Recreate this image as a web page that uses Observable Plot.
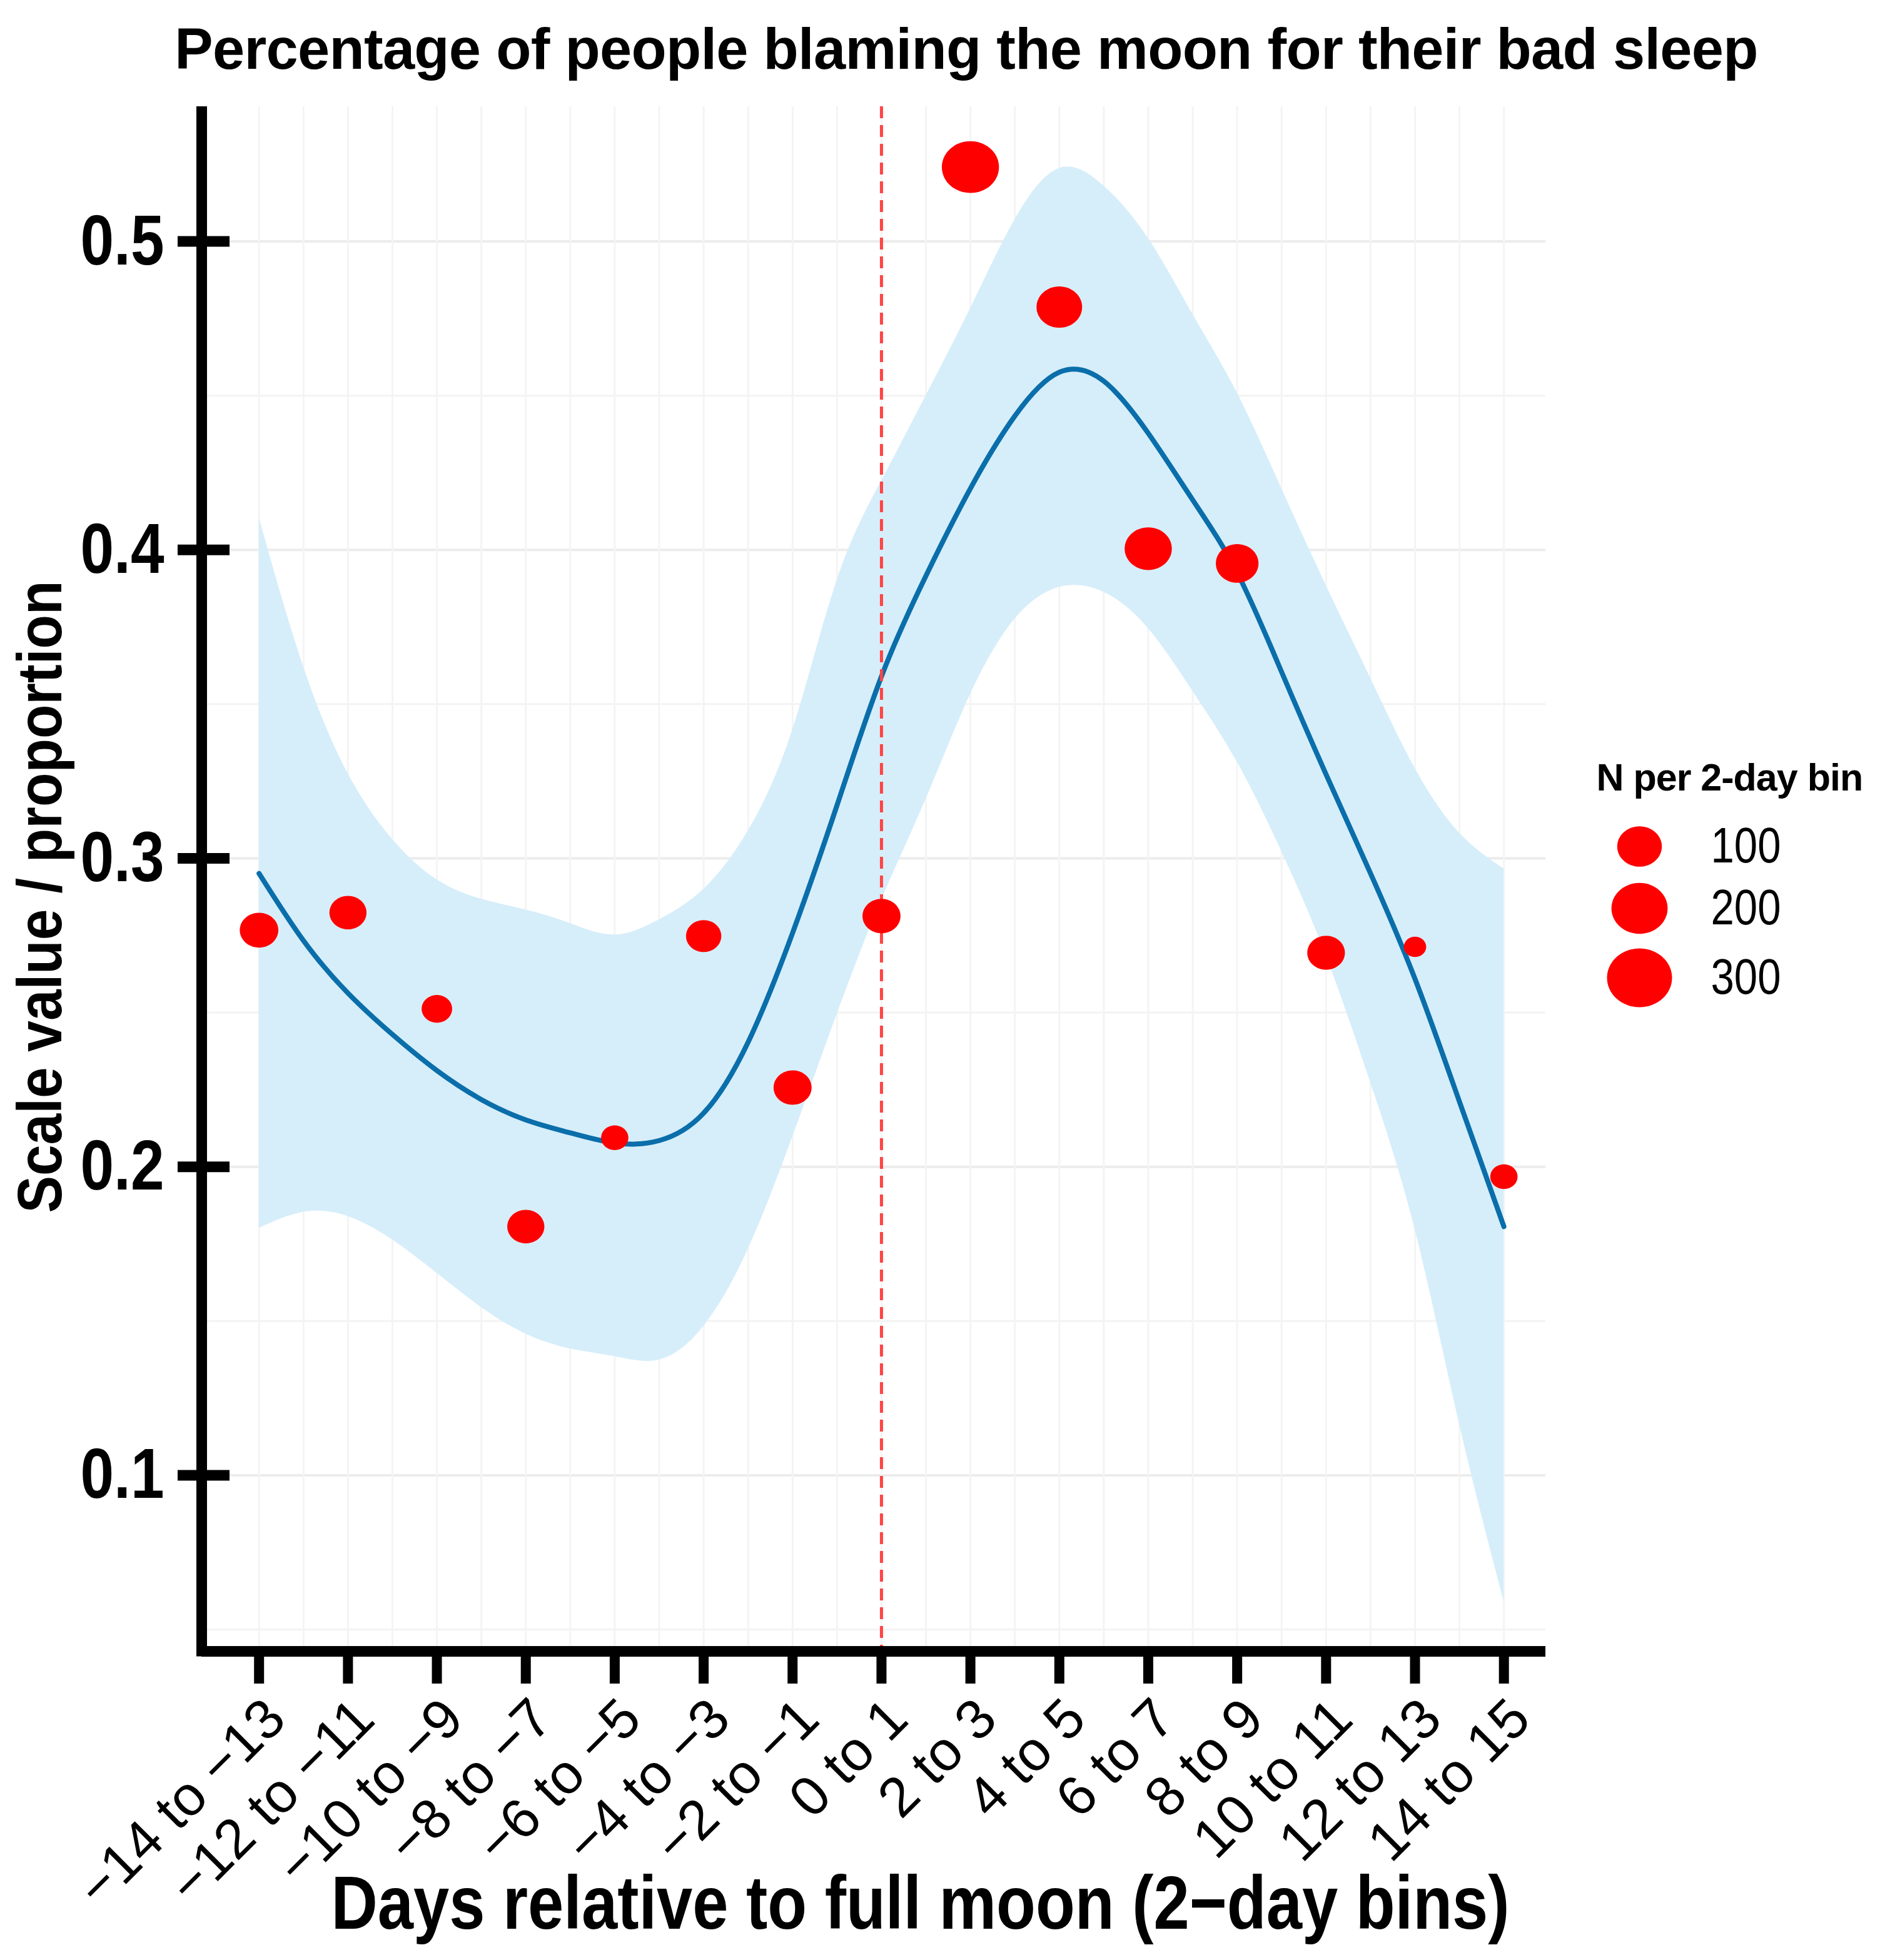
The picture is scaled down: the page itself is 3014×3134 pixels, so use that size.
<!DOCTYPE html>
<html>
<head>
<meta charset="utf-8">
<script src="https://cdn.jsdelivr.net/npm/d3@7"></script>
<script src="https://cdn.jsdelivr.net/npm/@observablehq/plot@0.6"></script>
<style>
  html, body { margin: 0; padding: 0; background: #ffffff; }
  #title {
    width: 3014px; height: 150px; box-sizing: border-box;
    padding-top: 32px; padding-left: 76px;
    text-align: center; white-space: nowrap;
    font-family: "Liberation Sans", Arial, sans-serif;
    font-weight: bold; font-size: 92px; line-height: 1;
    letter-spacing: -0.7px; color: #000;
  }
</style>
</head>
<body>
<div id="title">Percentage of people blaming the moon for their bad sleep</div>
<div id="chart"></div>
<script>
// ---- data ----
const binLabels = ["\u221214 to \u221213", "\u221212 to \u221211", "\u221210 to \u22129", "\u22128 to \u22127",
  "\u22126 to \u22125", "\u22124 to \u22123", "\u22122 to \u22121", "0 to 1", "2 to 3", "4 to 5",
  "6 to 7", "8 to 9", "10 to 11", "12 to 13", "14 to 15"];
const binStart = [-14, -12, -10, -8, -6, -4, -2, 0, 2, 4, 6, 8, 10, 12, 14];
const proportion = [0.2767, 0.2824, 0.2512, 0.1806, 0.2094, 0.2748, 0.2257, 0.2813,
  0.5241, 0.4787, 0.4004, 0.3956, 0.2694, 0.2713, 0.1968];
const nPerBin = [61, 53, 24, 53, 14, 44, 58, 58, 210, 107, 119, 86, 56, 4, 14];

const smoothDay = [-14, -13, -12, -11, -10, -9, -8, -7, -6, -5, -4, -3, -2, -1, 0,
  1, 2, 3, 4, 5, 6, 7, 8, 9, 10, 11, 12, 13, 14];
const smoothFit = [0.2951, 0.2733, 0.2563, 0.2429, 0.2312, 0.2218, 0.2152, 0.211, 0.2077, 0.2085,
  0.2174, 0.2404, 0.2758, 0.3172, 0.359, 0.3916, 0.4199, 0.4434, 0.4576, 0.4547, 0.4378, 0.4162,
  0.3926, 0.3604, 0.3272, 0.2951, 0.2609, 0.2211, 0.1806];
const ciUpper = [0.4105, 0.3621, 0.3275, 0.3062, 0.2931, 0.2868, 0.2833, 0.2789, 0.2752, 0.2801,
  0.29, 0.3089, 0.3417, 0.3902, 0.4224, 0.450, 0.4783, 0.5071, 0.5237, 0.518, 0.501, 0.4764,
  0.4509, 0.4199, 0.3885, 0.3584, 0.3292, 0.3082, 0.2966];
const ciLower = [0.1801, 0.1853, 0.1839, 0.1763, 0.1655, 0.1544, 0.1458, 0.141, 0.1385, 0.1374,
  0.1483, 0.1733, 0.2097, 0.2495, 0.2865, 0.3192, 0.3532, 0.3776, 0.3879, 0.3863, 0.3745, 0.3542,
  0.3312, 0.3022, 0.2684, 0.2273, 0.1796, 0.1165, 0.059];

const yTicks = [0.1, 0.2, 0.3, 0.4, 0.5];
const yMinorTicks = [0.05, 0.15, 0.25, 0.35, 0.45];
const dayGrid = smoothDay;
const legendN = [100, 200, 300];
const fullMoonDay = 0;

const xDomain = [-15.29, 14.94];
const yDomain = [0.0429, 0.5437];

const titleX = "Days relative to full moon (2\u2212day bins)";
const titleY = "Scale value / proportion";
const legendTitle = "N per 2-day bin";

// ---- tables ----
const bins = binStart.map((d, i) => ({day: d, label: binLabels[i], p: proportion[i], n: nPerBin[i]}));
const smooth = smoothDay.map((d, i) => ({day: d, fit: smoothFit[i], lo: ciLower[i], hi: ciUpper[i]}));

const regular = "'Liberation Sans', Arial, sans-serif";

// slightly wide ellipse, as the points appear in the reference
const ellipse = {
  draw(context, size) {
    const r = Math.sqrt(size / Math.PI), rx = r * 1.05, ry = r * 0.95, k = 0.5523;
    context.moveTo(rx, 0);
    context.bezierCurveTo(rx, k * ry, k * rx, ry, 0, ry);
    context.bezierCurveTo(-k * rx, ry, -rx, k * ry, -rx, 0);
    context.bezierCurveTo(-rx, -k * ry, -k * rx, -ry, 0, -ry);
    context.bezierCurveTo(k * rx, -ry, rx, -k * ry, rx, 0);
    context.closePath();
  }
};

const frameLeft = 322, frameTop = 20;
const legendRows = [1183, 1282, 1393];

const marks = [
  Plot.ruleY(yMinorTicks, {stroke: "#f3f3f3", strokeWidth: 3}),
  Plot.ruleY(yTicks, {stroke: "#ececec", strokeWidth: 4}),
  Plot.ruleX(dayGrid, {stroke: "#f4f4f4", strokeWidth: 3}),
  Plot.areaY(smooth, {x: "day", y1: "lo", y2: "hi", fill: "#d6eefa", curve: "natural"}),
  Plot.line(smooth, {x: "day", y: "fit", stroke: "#0a6eaa", strokeWidth: 8, curve: "natural"}),
  Plot.ruleX([fullMoonDay], {stroke: "#ff4444", strokeWidth: 5, strokeDasharray: "19,11"}),
  Plot.dot(bins, {x: "day", y: "p", r: "n", symbol: ellipse, fill: "#ff0000", stroke: null}),
  // axis lines
  Plot.ruleX([xDomain[0]], {stroke: "black", strokeWidth: 17, insetBottom: -8.5}),
  Plot.ruleY([yDomain[0]], {stroke: "black", strokeWidth: 17}),
  // y ticks (crossing the axis line)
  Plot.axisY({ticks: yTicks, tickSize: 83, dx: 45, strokeWidth: 17, stroke: "black",
    tickFormat: () => "", label: null}),
  // y tick labels
  Plot.axisY({ticks: yTicks, tickSize: 0, tickPadding: 60, fontSize: 114, fontWeight: "bold",
    fontFamily: regular, fill: "black", tickFormat: d => d.toFixed(1), label: null}),
  // x ticks
  Plot.axisX({ticks: binStart, tickSize: 52, strokeWidth: 16, stroke: "black",
    tickFormat: () => "", label: null}),
  // x tick labels
  Plot.text(bins, {x: "day", text: "label", frameAnchor: "bottom", rotate: -45,
    textAnchor: "end", lineAnchor: "top", dx: 2, dy: 68, fontSize: 89,
    fontFamily: regular, fill: "black"}),
  // axis titles
  Plot.text([titleX], {text: d => d, frameAnchor: "bottom", dx: 74.5, dy: 443,
    textAnchor: "middle", lineAnchor: "bottom", fontSize: 121, fontWeight: "bold",
    fontFamily: regular, fill: "black"}),
  Plot.text([titleY], {text: d => d, frameAnchor: "left", dx: -225, dy: 28.5, rotate: -90,
    textAnchor: "middle", lineAnchor: "bottom", fontSize: 100, fontWeight: "bold",
    fontFamily: regular, fill: "black"}),
  // legend
  Plot.text([legendTitle], {text: d => d, frameAnchor: "top-left", dx: 2552 - frameLeft,
    dy: 1113.5 - frameTop, textAnchor: "start", lineAnchor: "bottom", fontSize: 61,
    fontWeight: "bold", fontFamily: regular, fill: "black"}),
  ...legendN.map((n, i) => Plot.dot([n], {r: d => d, symbol: ellipse, frameAnchor: "top-left",
    dx: 2621 - frameLeft, dy: legendRows[i], fill: "#ff0000", stroke: null})),
  ...legendN.map((n, i) => Plot.text([n], {text: d => String(d), frameAnchor: "top-left",
    dx: 2735 - frameLeft, dy: legendRows[i], textAnchor: "start", lineAnchor: "middle",
    fontSize: 80, fontFamily: regular, fill: "black"}))
];

const chart = Plot.plot({
  width: 3014,
  height: 2984,
  marginLeft: frameLeft,
  marginRight: 3014 - 2471,
  marginTop: frameTop,
  marginBottom: 2984 - 2490,
  style: {background: "white", color: "black", overflow: "visible", fontFamily: regular},
  x: {domain: xDomain},
  y: {domain: yDomain},
  r: {type: "sqrt", domain: [100, 300], range: [34, 49.5]},
  marks
});

// condensed look of some texts: fit them to the widths measured in the reference
d3.select(chart).selectAll("text").each(function () {
  const t = this.textContent;
  let len = null;
  if (t === titleY) len = 1011;
  else if (t === titleX) len = 1884;
  else if (/^0\.\d$/.test(t)) len = 134;
  else if (/^[123]00$/.test(t)) len = 112;
  else if (t === legendTitle) this.setAttribute("letter-spacing", "-1");
  if (len) {
    this.setAttribute("textLength", len);
    this.setAttribute("lengthAdjust", "spacingAndGlyphs");
  }
});

document.getElementById("chart").appendChild(chart);
</script>
</body>
</html>
